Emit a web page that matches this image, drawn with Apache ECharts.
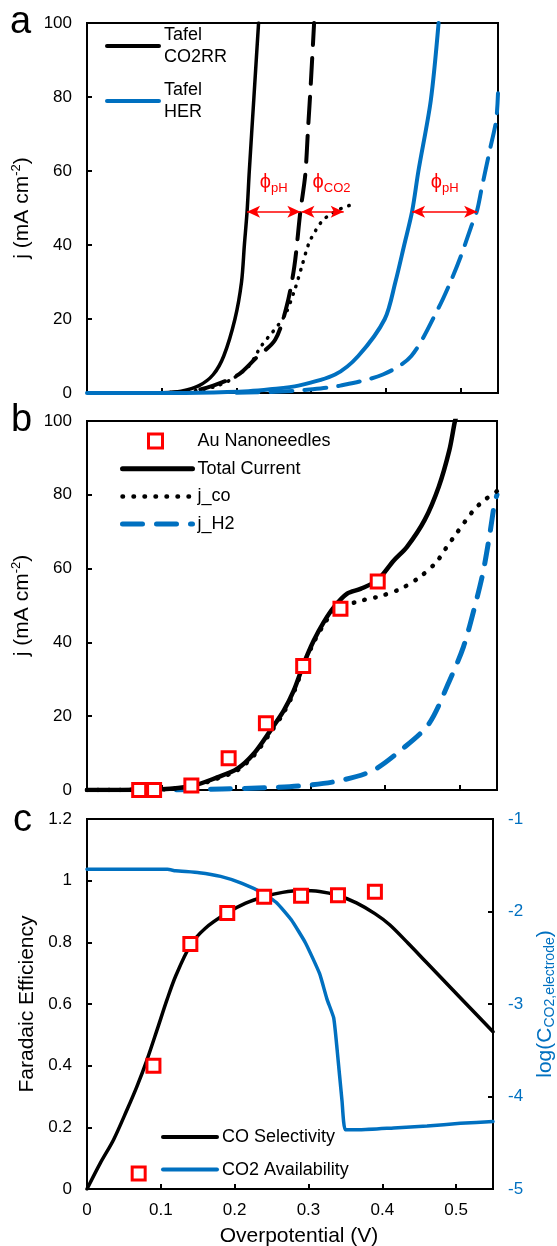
<!DOCTYPE html>
<html><head><meta charset="utf-8">
<script src="https://cdn.jsdelivr.net/npm/echarts@6/dist/echarts.min.js"></script>
<style>html,body{margin:0;padding:0;background:#fff}#chart{width:557px;height:1246px}</style>
</head><body><div id="chart"></div>
<script>
// ---------- Panel a data: [overpotential V, j mA/cm2] ----------
const tafelCO2RR = [[0.10,0],[0.126,0.5],[0.15,2],[0.169,5],[0.183,10],[0.198,20],[0.2068,30],[0.2106,40],[0.2142,49],[0.2172,60],[0.2234,80],[0.2296,100]];
const co2rrPH = [[0.10,0],[0.14,0.5],[0.169,2],[0.2021,4.9],[0.2258,9.4],[0.2518,14.4],[0.267,23.3],[0.2774,34.1],[0.2855,49],[0.292,58.8],[0.2958,71.4],[0.2996,84],[0.3039,100]];
const co2rrLimited = [[0.10,0],[0.14,0.5],[0.169,1.6],[0.1926,3.6],[0.2163,7.2],[0.2329,12.6],[0.2636,20.6],[0.2778,27.8],[0.2873,34.1],[0.2968,40.4],[0.3062,44],[0.3157,46.7],[0.3275,48.5],[0.3394,49.8],[0.3512,50.7],[0.3607,51.2]];
const tafelHER = [[0,0],[0.1,0.02],[0.15,0.1],[0.216,0.5],[0.245,1],[0.283,2],[0.332,5],[0.363,10],[0.3985,20],[0.4127,30],[0.4245,40],[0.435,49],[0.4435,60],[0.46,79],[0.4705,100]];
const herPH = [[0.2,0.1],[0.26,0.4],[0.3015,1],[0.339,2],[0.396,5],[0.434,10],[0.4707,23.1],[0.4864,30],[0.5007,37.2],[0.514,44.9],[0.5221,49.4],[0.528,55.2],[0.539,65.6],[0.5475,73.7],[0.55,81]];
const arrowJ = 49;
const arrowSpans = [[0.2142,0.2855],[0.287,0.3435],[0.435,0.5221]];
const arrowLabels = ['pH','CO2','pH'];

// ---------- Panel b data ----------
const auX = [0.07,0.09,0.14,0.19,0.24,0.29,0.34,0.39];
const auJ = [0,0,1.2,8.6,18.1,33.6,49.1,56.5];
const totalCurrent = [[0,0],[0.1,0.2],[0.143,1.2],[0.1745,3.4],[0.2013,5.7],[0.2236,9.8],[0.246,16.1],[0.2639,21.5],[0.2773,26.9],[0.2907,34.2],[0.3042,40.5],[0.3176,45.5],[0.331,49.5],[0.349,53.2],[0.3669,54.5],[0.3893,56.8],[0.4116,62.2],[0.4293,65.9],[0.453,73.2],[0.4719,82.2],[0.4861,92.1],[0.4932,99.6],[0.495,101]];
const jCO = [[0,0],[0.1,0.2],[0.143,1.1],[0.1745,3.1],[0.2013,5.3],[0.2236,9.3],[0.246,15.5],[0.2639,21],[0.2773,26.4],[0.2907,33.7],[0.3042,40],[0.3176,44.8],[0.331,48.3],[0.3601,50.9],[0.3893,52.3],[0.4183,54.3],[0.443,57.2],[0.4676,61.5],[0.4814,65.5],[0.4955,69.5],[0.519,75.9],[0.5334,78.6],[0.55,81]];
const jH2 = [[0.12,0],[0.181,0.3],[0.24,0.6],[0.284,1.1],[0.3333,2.3],[0.3826,5.2],[0.4228,11.1],[0.4585,17.9],[0.4854,29.2],[0.505,38.8],[0.519,48.8],[0.531,58.7],[0.5405,69.6],[0.5467,77.7],[0.55,80]];

// ---------- Panel c data ----------
const feData = [0.05,0.40,0.795,0.895,0.948,0.951,0.953,0.964];
const coSelectivity = [[0,0],[0.018,0.084],[0.036,0.16],[0.0542,0.257],[0.0677,0.333],[0.0813,0.419],[0.0949,0.516],[0.1084,0.614],[0.12,0.69],[0.14,0.79],[0.16,0.845],[0.189,0.894],[0.215,0.927],[0.24,0.948],[0.265,0.962],[0.29,0.968],[0.315,0.965],[0.34,0.952],[0.365,0.928],[0.39,0.893],[0.41,0.857],[0.435,0.797],[0.459,0.737],[0.483,0.677],[0.507,0.617],[0.55,0.51]];
const co2Availability = [[0,-1.544],[0.109,-1.544],[0.12,-1.56],[0.152,-1.58],[0.181,-1.62],[0.21,-1.695],[0.238,-1.80],[0.2575,-1.91],[0.2767,-2.09],[0.296,-2.34],[0.315,-2.67],[0.3252,-2.95],[0.3342,-3.15],[0.3388,-3.49],[0.3455,-4.05],[0.35,-4.36],[0.37,-4.36],[0.4155,-4.34],[0.4607,-4.32],[0.5058,-4.29],[0.55,-4.27]];

const FONT = '"Liberation Sans", Arial, sans-serif';
const BLUE = '#0070C0';
const RED = '#FF0000';

const chart = echarts.init(document.getElementById('chart'), null, {renderer:'canvas'});

function xAx(i){
  return {type:'value', gridIndex:i, min:0, max:0.55, interval:0.1,
    axisLine:{show:true, onZero:false, lineStyle:{color:'#000', width:2}},
    axisTick:{show:true, inside:true, length:5, lineStyle:{color:'#000', width:2}},
    axisLabel:{show:i===2, showMaxLabel:false, fontSize:17, color:'#000', margin:13, fontFamily:FONT},
    splitLine:{show:false},
    name: i===2 ? 'Overpotential (V)' : '', nameLocation:'middle', nameGap:37,
    nameTextStyle:{fontSize:21, color:'#000', fontFamily:FONT, padding:[0,0,0,18]}};
}
const jName = '{m|j (mA cm}{s|-2}{m|)}';
const nameRichJ = {m:{fontSize:21, color:'#000', fontFamily:FONT, lineHeight:24}, s:{fontSize:13, color:'#000', fontFamily:FONT, verticalAlign:'top', lineHeight:13}};
function yAx(i, min, max, interval, name, rich){
  return {type:'value', gridIndex:i, min, max, interval,
    axisLine:{show:true, onZero:false, lineStyle:{color:'#000', width:2}},
    axisTick:{show:true, inside:true, length:5, lineStyle:{color:'#000', width:2}},
    axisLabel:{fontSize:17, color:'#000', margin:15, fontFamily:FONT},
    splitLine:{show:false},
    name, nameLocation:'middle', nameRotate:90, nameGap:47,
    nameTextStyle:{fontSize:21, color:'#000', fontFamily:FONT, rich}};
}
function ln(name, data, xi, yi, color, width, type, extra){
  return Object.assign({type:'line', name, data, xAxisIndex:xi, yAxisIndex:yi, symbol:'none', showSymbol:false,
    smooth:0.3, lineStyle:{color, width, type, cap:'round', join:'round'}, itemStyle:{color}, z:2}, extra||{});
}

const markArrows = {
  silent:true, symbol:['arrow','arrow'], symbolSize:[9,13],
  lineStyle:{color:RED, width:1.5, type:'solid'},
  label:{show:true, position:'insideMiddleTop', distance:17,
    formatter:(p)=>'{f|ϕ}{s|'+p.name+'}',
    rich:{f:{fontSize:20, color:RED, fontFamily:FONT, lineHeight:24}, s:{fontSize:13, color:RED, fontFamily:FONT, verticalAlign:'bottom', lineHeight:13}}},
  data: arrowSpans.map((s,k)=>[Object.assign({coord:[s[0],arrowJ], name:arrowLabels[k]}, k===1?{label:{offset:[9,0]}}:{}),{coord:[s[1],arrowJ]}])
};

const legendText = {fontSize:18, color:'#000', fontFamily:FONT, lineHeight:20};
const gridBase = {show:true, borderColor:'#000', borderWidth:2, backgroundColor:'transparent', containLabel:false, outerBoundsMode:'none'};
const option = {
  animation:false,
  backgroundColor:'#fff',
  textStyle:{fontFamily:FONT},
  title:[
    {text:'a', left:10, top:4, padding:0, textStyle:{fontSize:38, fontWeight:'normal', color:'#000', fontFamily:FONT}},
    {text:'b', left:11, top:402, padding:0, textStyle:{fontSize:38, fontWeight:'normal', color:'#000', fontFamily:FONT}},
    {text:'c', left:13, top:802, padding:0, textStyle:{fontSize:38, fontWeight:'normal', color:'#000', fontFamily:FONT}}
  ],
  grid:[
    Object.assign({left:87, top:23, width:411, height:370}, gridBase),
    Object.assign({left:87, top:421, width:410, height:369}, gridBase),
    Object.assign({left:87, top:819, width:406, height:370}, gridBase)
  ],
  legend:[
    {data:[{name:'Tafel\nCO2RR', lineStyle:{width:4}}], left:105, top:13, padding:0, itemWidth:52, itemHeight:14, selectedMode:false,
      itemStyle:{opacity:0}, textStyle:{fontSize:18, color:'#000', fontFamily:FONT, lineHeight:22, padding:[22,0,0,0]}},
    {data:[{name:'Tafel\nHER', lineStyle:{width:4}}], left:105, top:68, padding:0, itemWidth:52, itemHeight:14, selectedMode:false,
      itemStyle:{opacity:0}, textStyle:{fontSize:18, color:'#000', fontFamily:FONT, lineHeight:22, padding:[22,0,0,0]}},
    {data:[{name:'Au Nanoneedles', icon:'rect', itemStyle:{color:'#fff', borderColor:RED, borderWidth:3}}],
      left:147, top:431, padding:0, itemWidth:14, itemHeight:14, selectedMode:false,
      textStyle:Object.assign({}, legendText, {padding:[0,0,0,30]})},
    {data:[{name:'Total Current', lineStyle:{width:5}},{name:'j_co', lineStyle:{width:4.5}},{name:'j_H2', lineStyle:{width:5}}],
      orient:'vertical', left:120, top:458.7, padding:0, itemWidth:70, itemHeight:14, itemGap:7.7, selectedMode:false,
      itemStyle:{opacity:0}, textStyle:legendText},
    {data:[{name:'CO Selectivity', lineStyle:{width:4}},{name:'CO2 Availability', lineStyle:{width:4}}], orient:'vertical', left:161, top:1127, padding:0, itemWidth:54, itemHeight:14, itemGap:12.6, selectedMode:false,
      itemStyle:{opacity:0}, textStyle:legendText}
  ],
  xAxis:[xAx(0), xAx(1), xAx(2)],
  yAxis:[
    yAx(0,0,100,20,jName,nameRichJ),
    yAx(1,0,100,20,jName,nameRichJ),
    yAx(2,0,1.2,0.2,'Faradaic Efficiency',{}),
    {type:'value', gridIndex:2, position:'right', min:-5, max:-1, interval:1,
      axisLine:{show:true, onZero:false, lineStyle:{color:'#000', width:2}},
      axisTick:{show:true, inside:true, length:5, lineStyle:{color:'#000', width:2}},
      axisLabel:{fontSize:17, color:BLUE, margin:15, fontFamily:FONT},
      splitLine:{show:false},
      name:'{m|log(C}{s|CO2,electrode}{m|)}', nameLocation:'middle', nameRotate:90, nameGap:40,
      nameTextStyle:{color:BLUE, rich:{m:{fontSize:21, color:BLUE, fontFamily:FONT, lineHeight:24}, s:{fontSize:14, color:BLUE, fontFamily:FONT, verticalAlign:'bottom', lineHeight:14}}}}
  ],
  series:[
    // panel a
    ln('Tafel\nCO2RR', tafelCO2RR, 0, 0, '#000', 3.5, 'solid'),
    ln('co2rr_ph', co2rrPH, 0, 0, '#000', 4, [26,13], {markLine:markArrows}),
    ln('co2rr_lim', co2rrLimited, 0, 0, '#000', 3.5, [0.5,8]),
    ln('Tafel\nHER', tafelHER, 0, 0, BLUE, 4, 'solid'),
    ln('her_ph', herPH, 0, 0, BLUE, 4, [22,12]),
    // panel b
    ln('j_H2', jH2, 1, 1, BLUE, 5, [20,14]),
    ln('j_co', jCO, 1, 1, '#000', 4.5, [0.5,10.5]),
    ln('Total Current', totalCurrent, 1, 1, '#000', 4.5, 'solid'),
    {type:'scatter', name:'Au Nanoneedles', xAxisIndex:1, yAxisIndex:1, data:auX.map((x,k)=>[x,auJ[k]]),
      symbol:'rect', symbolSize:13, itemStyle:{color:'#fff', borderColor:RED, borderWidth:3, opacity:1}, z:5},
    // panel c
    ln('CO Selectivity', coSelectivity, 2, 2, '#000', 3.5, 'solid'),
    ln('CO2 Availability', co2Availability, 2, 3, BLUE, 3.5, 'solid', {smooth:0.15}),
    {type:'scatter', name:'FE', xAxisIndex:2, yAxisIndex:2, data:auX.map((x,k)=>[x,feData[k]]),
      symbol:'rect', symbolSize:13, itemStyle:{color:'#fff', borderColor:RED, borderWidth:3, opacity:1}, z:5}
  ]
};
chart.setOption(option);
</script>
</body></html>
